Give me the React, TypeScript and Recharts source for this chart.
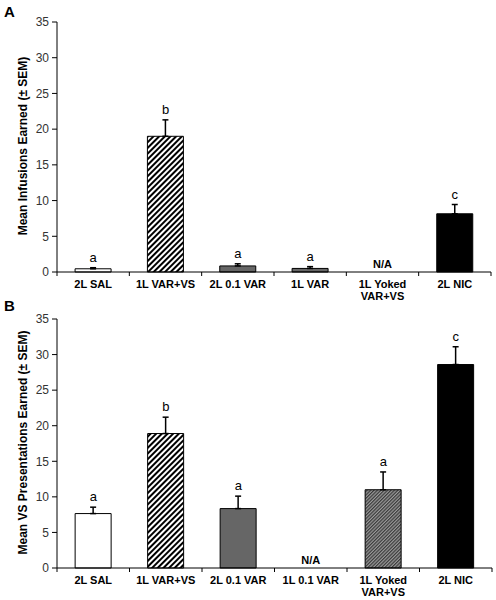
import React from 'react';
import { ComposedChart, Bar, Line, XAxis, YAxis, ErrorBar, Cell, LabelList } from 'recharts';

const categoriesA = ['2L SAL', '1L VAR+VS', '2L 0.1 VAR', '1L VAR', '1L Yoked\nVAR+VS', '2L NIC'];
const infusionMeans = [0.45, 19.0, 0.85, 0.5, 0, 8.15];
const infusionSem = [0.15, 2.3, 0.3, 0.25, 0, 1.3];
const infusionLetters = ['a', 'b', 'a', 'a', 'N/A', 'c'];

const categoriesB = ['2L SAL', '1L VAR+VS', '2L 0.1 VAR', '1L 0.1 VAR', '1L Yoked\nVAR+VS', '2L NIC'];
const vsMeans = [7.65, 18.9, 8.35, 0, 11.0, 28.6];
const vsSem = [0.9, 2.3, 1.75, 0, 2.5, 2.5];
const vsLetters = ['a', 'b', 'a', 'N/A', 'a', 'c'];

const yTicks = [0, 5, 10, 15, 20, 25, 30, 35];
const fillsA = ['#ffffff', 'url(#hatchCoarse)', '#666666', '#666666', '#ffffff', '#000000'];
const fillsB = ['#ffffff', 'url(#hatchCoarse)', '#666666', '#666666', 'url(#hatchFine)', '#000000'];

const FONT = '"Liberation Sans", Arial, sans-serif';

function build(cats: string[], means: number[], sems: number[], letters: string[]) {
  return cats.map((name, i) => ({
    name,
    value: means[i],
    err: [0, sems[i]],
    top: means[i] + sems[i],
    letter: letters[i],
  }));
}

const dataA = build(categoriesA, infusionMeans, infusionSem, infusionLetters);
const dataB = build(categoriesB, vsMeans, vsSem, vsLetters);

function XTick(props: any) {
  const { x, y, payload, index } = props;
  const lines = String(payload.value).split('\n');
  const off = payload.offset ?? 36;
  return (
    <g>
      <line x1={x + off} x2={x + off} y1={y} y2={y + 4} stroke="#000" strokeWidth={1} />
      {index === 0 && <line x1={x - off} x2={x - off} y1={y} y2={y + 4} stroke="#000" strokeWidth={1} />}
      <text x={x} y={y + 16} textAnchor="middle" fontWeight="bold" fontSize={11} fontFamily={FONT} fill="#000">
        {lines.map((l, i) => (
          <tspan key={i} x={x} dy={i === 0 ? 0 : 12}>{l}</tspan>
        ))}
      </text>
    </g>
  );
}

function LetterLabel(props: any) {
  const { x, y, value } = props;
  if (value == null) return null;
  const na = value === 'N/A';
  return (
    <text
      x={x}
      y={na ? y - 4 : y - 6}
      textAnchor="middle"
      fontSize={na ? 11 : 13}
      fontWeight={na ? 'bold' : 'normal'}
      fontFamily={FONT}
      fill="#000"
      stroke="none"
    >
      {value}
    </text>
  );
}

function YLabel(text: string) {
  return (props: any) => {
    const vb = props.viewBox || {};
    const cy = vb.y + vb.height / 2 - 1;
    const cx = 24;
    return (
      <text
        x={cx}
        y={cy}
        transform={`rotate(-90 ${cx} ${cy})`}
        textAnchor="middle"
        dominantBaseline="middle"
        fontWeight="bold"
        fontSize={12}
        fontFamily={FONT}
        fill="#000"
      >
        {text}
      </text>
    );
  };
}

function Panel(props: { data: any[]; fills: string[]; ylabel: string; margin: any; xHeight: number }) {
  const { data, fills, ylabel, margin, xHeight } = props;
  return (
    <ComposedChart width={496} height={300} data={data} margin={margin} barCategoryGap="25%">
      <XAxis
        dataKey="name"
        interval={0}
        tickLine={false}
        tickSize={0}
        tickMargin={0}
        tick={<XTick />}
        height={xHeight}
        axisLine={{ stroke: '#000', strokeWidth: 1 }}
      />
      <YAxis
        domain={[0, 35]}
        ticks={yTicks}
        interval={0}
        width={57}
        tickSize={5}
        tickMargin={3}
        tickLine={{ stroke: '#000' }}
        axisLine={{ stroke: '#000', strokeWidth: 1 }}
        tick={{ fontSize: 12, fontFamily: FONT, fill: '#333' }}
        label={{ content: YLabel(ylabel) } as any}
      />
      <Bar dataKey="value" stroke="#000" strokeWidth={1} isAnimationActive={false}>
        {data.map((d, i) => (
          <Cell key={i} fill={fills[i]} />
        ))}
        <ErrorBar dataKey="err" width={3} stroke="#000" strokeWidth={1.5} direction="y" />
      </Bar>
      <Line dataKey="top" stroke="none" dot={false} activeDot={false} isAnimationActive={false}>
        <LabelList dataKey="letter" content={<LetterLabel />} />
      </Line>
    </ComposedChart>
  );
}

export default function App() {
  return (
    <div style={{ position: 'absolute', left: 0, top: 0, width: 496, height: 600, background: '#fff' }}>
      <svg width={496} height={600} style={{ position: 'absolute', left: 0, top: 0 }}>
        <defs>
          <pattern id="hatchCoarse" patternUnits="userSpaceOnUse" width={4} height={4} patternTransform="rotate(45)">
            <rect x={0} y={0} width={4} height={4} fill="#fff" />
            <rect x={0} y={0} width={2} height={4} fill="#000" />
          </pattern>
          <pattern id="hatchFine" patternUnits="userSpaceOnUse" width={2.4} height={2.4} patternTransform="rotate(45)">
            <rect x={0} y={0} width={2.4} height={2.4} fill="#9a9a9a" />
            <rect x={0} y={0} width={1.2} height={2.4} fill="#3a3a3a" />
          </pattern>
        </defs>
        <text x={4} y={17} fontSize={15} fontWeight="bold" fontFamily={FONT} fill="#000">A</text>
        <text x={4} y={311} fontSize={15} fontWeight="bold" fontFamily={FONT} fill="#000">B</text>
      </svg>
      <div style={{ position: 'absolute', left: 0, top: 0 }}>
        <Panel data={dataA} fills={fillsA} ylabel="Mean Infusions Earned (± SEM)" margin={{ top: 22, right: 5, bottom: 0, left: 0 }} xHeight={28} />
      </div>
      <div style={{ position: 'absolute', left: 0, top: 300 }}>
        <Panel data={dataB} fills={fillsB} ylabel="Mean VS Presentations Earned (± SEM)" margin={{ top: 19, right: 4, bottom: 0, left: 0 }} xHeight={32} />
      </div>
    </div>
  );
}
